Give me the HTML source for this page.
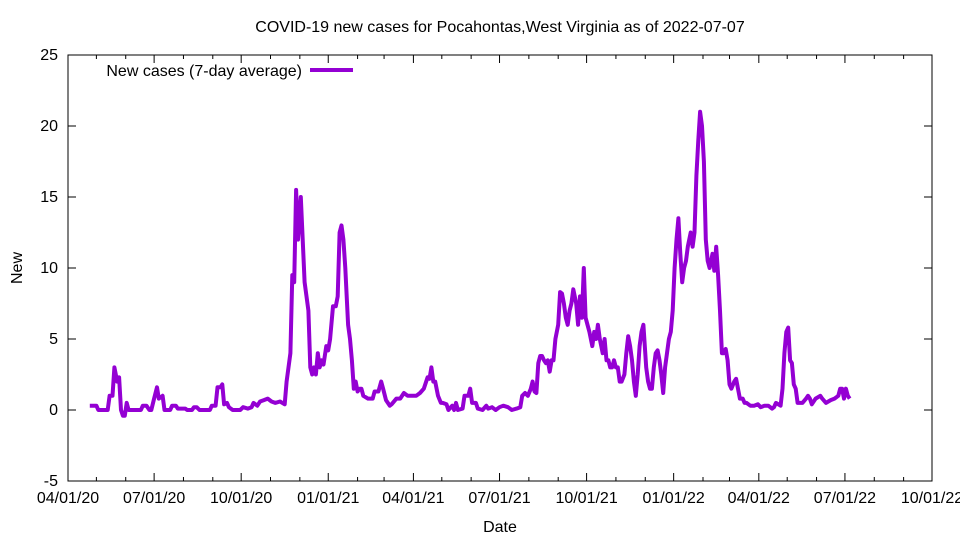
<!DOCTYPE html>
<html><head><meta charset="utf-8"><style>
body{margin:0;background:#fff;}
svg text{font-family:"Liberation Sans",sans-serif;font-size:16px;fill:#000;}
</style></head><body>
<svg id="chart" width="960" height="540" xmlns="http://www.w3.org/2000/svg">
<text x="500" y="32" text-anchor="middle">COVID-19 new cases for Pocahontas,West Virginia as of 2022-07-07</text>
<rect x="68" y="55" width="864" height="426" fill="none" stroke="#000" stroke-width="1"/>
<g id="axes"></g>
<text x="500" y="532" text-anchor="middle">Date</text>
<text transform="translate(22,268) rotate(-90)" text-anchor="middle">New</text>
<g>
<text x="302" y="76" text-anchor="end">New cases (7-day average)</text>
<line x1="310" y1="70" x2="353" y2="70" stroke="#9400d3" stroke-width="4"/>
</g>
<path id="series" fill="none" stroke="#9400d3" stroke-width="4" stroke-linejoin="round"/>
</svg>
<script>
const days=[23,30,32,42,44,47,49,52,54,56,58,60,62,64,77,79,83,86,88,91,94,96,100,102,108,110,114,116,124,126,131,133,136,139,150,152,156,158,161,163,165,168,170,174,182,185,190,194,196,200,203,207,211,215,219,224,229,231,235,237,239,241,243,246,248,250,252,254,256,258,260,262,264,266,268,270,273,275,277,280,283,285,287,289,291,293,296,298,300,302,304,306,308,310,312,317,322,324,328,331,333,336,340,342,347,351,355,359,363,368,372,376,380,382,384,386,388,391,394,396,400,402,406,408,410,412,417,419,423,425,427,431,433,438,442,444,448,452,456,460,465,469,474,478,480,483,486,489,491,493,495,497,499,501,503,505,507,509,511,513,515,518,520,522,524,526,528,530,532,534,537,539,541,543,545,547,549,551,554,556,558,560,562,565,567,569,571,573,575,577,579,581,583,585,588,590,592,594,596,598,600,602,604,606,608,611,613,615,617,619,621,623,625,627,629,631,635,637,639,641,643,645,647,649,651,653,655,658,660,662,664,666,668,670,672,674,676,678,681,683,685,687,689,691,693,695,697,699,701,704,706,708,710,713,715,717,721,725,729,732,736,740,744,746,748,753,755,757,759,761,763,765,767,769,771,776,780,782,784,786,790,795,797,801,806,810,814,816,818,820,822,824,826];
const values=[0.3,0.3,0,0,1,1,3,2,2.3,0,-0.4,-0.4,0.5,0,0,0.3,0.3,0,0,0.8,1.6,0.8,1,0,0,0.3,0.3,0.1,0.1,0,0,0.2,0.2,0,0,0.3,0.3,1.6,1.6,1.8,0.4,0.5,0.2,0,0,0.2,0.1,0.2,0.5,0.3,0.6,0.7,0.8,0.6,0.5,0.6,0.4,2,4,9.5,9,15.5,12,15,12,9,8,7,3,2.5,3,2.5,4,3,3.5,3.2,4.5,4.2,5,7.3,7.3,8,12.5,13,12,10,6,5,3.5,1.5,2,1.3,1.5,1.5,1,0.8,0.8,1.3,1.3,2,1.5,0.7,0.3,0.4,0.8,0.8,1.2,1,1,1,1.2,1.5,2.3,2.2,3,2,2,1,0.5,0.5,0.4,0,0.3,0,0.5,0,0.1,1,1,1.5,0.5,0.5,0.1,0,0.3,0.1,0.2,0,0.2,0.3,0.2,0,0.1,0.2,1,1.2,1,1.5,2,1.3,1.2,3.3,3.8,3.8,3.5,3.3,3.5,2.7,3.5,3.5,5,6,8.3,8.2,7.5,6.5,6,7,7.5,8.5,7.5,6,8,6.5,10,6.5,6,5.5,4.5,5.5,5,6,5,4,5,3.5,3.5,3,3,3.5,3,3,2,2,2.5,4,5.2,4.5,3.5,2,1,2.5,4.5,5.5,6,3,2,1.5,1.5,3,4,4.2,3.5,2.5,1.2,3,5,5.5,7,10,12,13.5,11,9,10,10.5,11.5,12.5,11.5,12.5,16.5,19,21,20,17.5,12,10.5,10,11,9.8,11.5,9.5,7,4,4,4.3,3.5,1.8,1.5,2,2.2,1.5,0.8,0.8,0.5,0.5,0.3,0.3,0.4,0.2,0.3,0.3,0.1,0.2,0.5,0.3,1.5,4,5.5,5.8,3.5,3.3,1.8,1.5,0.5,0.5,0.8,1,0.8,0.4,0.8,1,0.8,0.5,0.7,0.8,1,1.5,1.5,0.8,1.5,1,0.8];
const yTicks=[-5,0,5,10,15,20,25];
const xTickLabels=["04/01/20","07/01/20","10/01/20","01/01/21","04/01/21","07/01/21","10/01/21","01/01/22","04/01/22","07/01/22","10/01/22"];
const xTickDays=[0,91,183,275,365,456,548,640,730,821,913];
const minorTickDays=[30,61,122,153,214,245,306,334,395,426,487,518,579,610,671,699,760,791,852,883];

const L=68,R=932,T=55,B=481;
const xS=d=>L+d/913*(R-L);
const yS=v=>B-(v+5)/30*(B-T);
const ns="http://www.w3.org/2000/svg";
const axes=document.getElementById('axes');
function mk(tag,attrs){const e=document.createElementNS(ns,tag);for(const k in attrs)e.setAttribute(k,attrs[k]);axes.appendChild(e);return e;}
yTicks.forEach(v=>{
  const y=yS(v);
  const t1=mk('line',{x1:L,y1:y,x2:L+8,y2:y,stroke:'#000'});
  
  
  const t2=mk('line',{x1:R-8,y1:y,x2:R,y2:y,stroke:'#000'});
  
  
  const tx=mk('text',{x:L-10,y:y+5,'text-anchor':'end'});
  tx.textContent=v;
  
  
});
xTickDays.forEach((d,i)=>{
  const x=xS(d);
  const t1=mk('line',{x1:x,y1:B,x2:x,y2:B-8,stroke:'#000'});
  
  
  const t2=mk('line',{x1:x,y1:T,x2:x,y2:T+8,stroke:'#000'});
  
  
  const tx=mk('text',{x:x,y:B+22,'text-anchor':'middle'});
  tx.textContent=xTickLabels[i];
  
  
});
minorTickDays.forEach(d=>{
  const x=xS(d);
  const t1=mk('line',{x1:x,y1:B,x2:x,y2:B-4,stroke:'#000'});
  
  
  const t2=mk('line',{x1:x,y1:T,x2:x,y2:T+4,stroke:'#000'});
  
  
});
let dstr='';
days.forEach((d,i)=>{dstr+=(i?'L':'M')+xS(d).toFixed(1)+','+yS(values[i]).toFixed(1);});
document.getElementById('series').setAttribute('d',dstr);
</script>
</body></html>
